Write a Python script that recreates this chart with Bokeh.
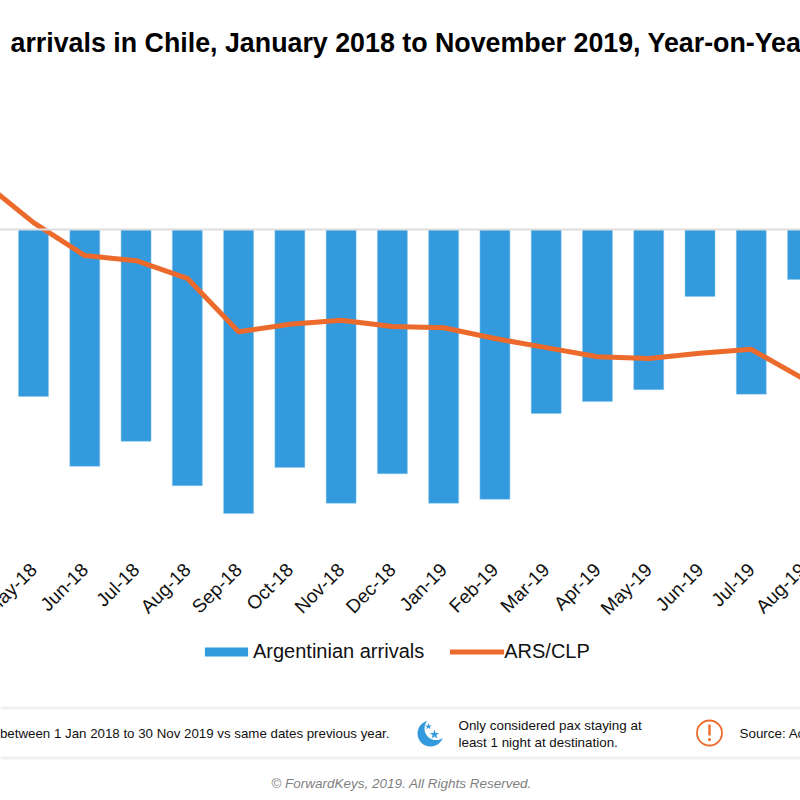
from bokeh.plotting import figure
from bokeh.layouts import column
from bokeh.models import Range1d, Label, Legend, LegendItem, FixedTicker, Span
from bokeh.core.properties import value
from bokeh.embed import file_html
from bokeh.resources import INLINE
import math

months = ["Apr-18", "May-18", "Jun-18", "Jul-18", "Aug-18", "Sep-18", "Oct-18", "Nov-18", "Dec-18",
          "Jan-19", "Feb-19", "Mar-19", "Apr-19", "May-19", "Jun-19", "Jul-19", "Aug-19"]
arrivals = [None, -29.4, -41.7, -37.3, -45.1, -50.0, -41.9, -48.2, -43.0, -48.2, -47.5, -32.4, -30.3, -28.2, -11.8, -29.0, -8.8]
ars_clp = [8.5, 1.2, -4.6, -5.5, -8.6, -18.0, -16.7, -16.0, -17.1, -17.3, -19.2, -20.8, -22.4, -22.7, -21.8, -21.1, -26.2]
title_text = "arrivals in Chile, January 2018 to November 2019, Year-on-Year"
note_1 = "between 1 Jan 2018 to 30 Nov 2019 vs same dates previous year."
note_2 = ["Only considered pax staying at", "least 1 night at destination."]
note_3 = "Source: Ac"
copyright_text = "© ForwardKeys, 2019. All Rights Reserved."

FONT = "Liberation Sans"
BLUE = "#339ADD"
ORANGE = "#EC6A2C"
idx = list(range(len(months)))

p = figure(width=852, height=630, output_backend="svg", toolbar_location=None,
           x_range=Range1d(-0.034, 16.194), y_range=Range1d(-54.4, 40.3),
           min_border_left=0, min_border_right=0, min_border_top=0, min_border_bottom=92,
           outline_line_color=None, margin=(0, 0, 0, -20))
p.grid.visible = False
p.yaxis.visible = False
ax = p.xaxis[0]
ax.ticker = FixedTicker(ticks=idx[1:])
ax.major_label_overrides = {i: m for i, m in zip(idx, months)}
ax.major_label_orientation = math.pi / 4
ax.major_label_text_font = FONT
ax.major_label_text_font_size = "19px"
ax.major_label_text_color = "#111111"
ax.axis_line_color = None
ax.major_tick_line_color = None
ax.minor_tick_line_color = None
ax.major_label_standoff = 22

p.add_layout(Span(location=0, dimension="width", line_color="#dddddd", line_width=2))
bx = [i for i, v in zip(idx, arrivals) if v is not None]
by = [v for v in arrivals if v is not None]
p.vbar(x=bx, top=[0] * len(bx), bottom=by, width=0.585, fill_color=BLUE, line_color="#8cc6ec", line_width=0.5)
p.line(idx, ars_clp, line_color=ORANGE, line_width=5, line_join="round", line_cap="round")

p.add_layout(Label(x=30, y=496, x_units="screen", y_units="screen", text=title_text,
                   text_font=FONT, text_font_style="bold", text_font_size="26.8px",
                   text_color="#000000", text_baseline="alphabetic"))

f = figure(width=800, height=170, output_backend="svg", toolbar_location=None,
           x_range=Range1d(0, 800), y_range=Range1d(800, 630), min_border=0, outline_line_color=None)
f.grid.visible = False
f.axis.visible = False

leg_bar = f.vbar(x=[-100], top=[700], bottom=[700], width=1, fill_color=BLUE, line_color=None)
leg_line = f.line(x=[-100, -90], y=[700, 700], line_color=ORANGE, line_width=5, line_cap="round")
legend = Legend(items=[LegendItem(label="Argentinian arrivals", renderers=[leg_bar]),
                       LegendItem(label="ARS/CLP", renderers=[leg_line])],
                orientation="horizontal", location=(199, 137), background_fill_alpha=0, border_line_color=None,
                label_text_font=FONT, label_text_font_size="20px", label_text_color="#111111",
                glyph_width=54, glyph_height=11, spacing=26, padding=8, margin=0, label_standoff=0)
f.add_layout(legend, "center")

for y in (707.5, 757.5):
    f.rect(x=400, y=y, width=800, height=3, fill_color="#f0f0f0", line_color=None)

f.text(x=[389], y=[733], text=[note_1], text_font=value(FONT), text_font_size="13.3px", text_align="right",
       text_baseline="middle", text_color="#111111")
f.text(x=[458, 458], y=[725, 742], text=note_2, text_font=value(FONT), text_font_size="13.4px",
       text_baseline="middle", text_color="#111111")
f.text(x=[739], y=[733], text=[note_3], text_font=value(FONT), text_font_size="13.4px",
       text_baseline="middle", text_color="#111111")
f.text(x=[401], y=[783], text=[copyright_text], text_font=value(FONT), text_font_size="13.5px",
       text_font_style="italic", text_align="center", text_baseline="middle", text_color="#7f7f7f")

# moon icon
f.circle(x=[430], y=[733], radius=13, fill_color=BLUE, line_color=None)
f.circle(x=[435.5], y=[728], radius=11.5, fill_color="white", line_color=None)
f.scatter(x=[434, 428], y=[734, 726], size=[10, 7], marker="star", fill_color=BLUE, line_color=None)
# alert icon
f.circle(x=[709], y=[732.5], radius=12.5, fill_color=None, line_color=ORANGE, line_width=1.8)
f.rect(x=[709], y=[729.5], width=2.4, height=11, fill_color=ORANGE, line_color=None)
f.circle(x=[709], y=[739], radius=1.6, fill_color=ORANGE, line_color=None)

layout = column(p, f, spacing=0, margin=(0, 0, 0, 0))
open("out.html", "w").write(file_html(layout, INLINE))
